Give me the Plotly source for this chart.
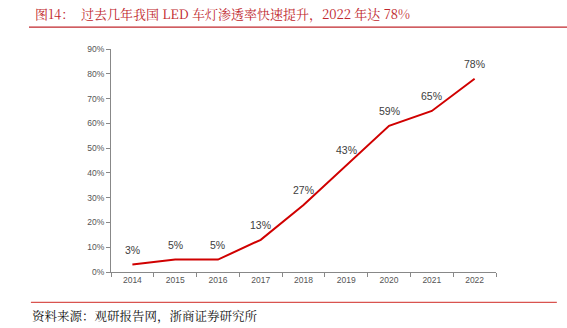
import plotly.graph_objects as go

years = ["2014", "2015", "2016", "2017", "2018", "2019", "2020", "2021", "2022"]
rate = [0.03, 0.05, 0.05, 0.13, 0.27, 0.43, 0.59, 0.65, 0.78]
labels = ["3%", "5%", "5%", "13%", "27%", "43%", "59%", "65%", "78%"]
yticks = [0, 0.1, 0.2, 0.3, 0.4, 0.5, 0.6, 0.7, 0.8, 0.9]
ytick_text = ["0%", "10%", "20%", "30%", "40%", "50%", "60%", "70%", "80%", "90%"]

title = "图14：  过去几年我国 LED 车灯渗透率快速提升，2022 年达 78%"
source = "资料来源：观研报告网，浙商证券研究所"
red = "#c0272d"

fig = go.Figure()
fig.add_trace(go.Scatter(x=years, y=rate, mode="lines",
                         line=dict(color="#d00000", width=2), hoverinfo="skip"))

for i, (y, t) in enumerate(zip(rate, labels)):
    fig.add_annotation(x=i, y=y, text=t, showarrow=False, yshift=15,
                       font=dict(family="Liberation Sans, Arial", size=10.5, color="#404040"))

fig.add_annotation(xref="paper", yref="paper", x=-0.203, y=1.157, xanchor="left", yanchor="middle",
                   text=title, showarrow=False,
                   font=dict(family="Noto Serif CJK SC, Noto Sans CJK SC", size=13, color=red))
fig.add_annotation(xref="paper", yref="paper", x=-0.21, y=-0.196, xanchor="left", yanchor="middle",
                   text=source, showarrow=False,
                   font=dict(family="Noto Serif CJK SC, Noto Sans CJK SC", size=12.5, color="#111111"))

# separator lines
fig.add_shape(type="line", xref="paper", yref="paper", x0=-0.213, x1=1.19, y0=1.0985, y1=1.0985,
              line=dict(color=red, width=1.2))
fig.add_shape(type="line", xref="paper", yref="paper", x0=-0.208, x1=1.158, y0=-0.136, y1=-0.136,
              line=dict(color="#d9534f", width=1.2))

fig.update_layout(
    width=567, height=328,
    margin=dict(l=111, r=71, t=49, b=56),
    paper_bgcolor="white", plot_bgcolor="white",
    showlegend=False,
    xaxis=dict(type="category", tickson="boundaries", ticks="outside", ticklen=4,
               tickcolor="#888888", showline=True, linecolor="#888888", linewidth=1,
               showgrid=False, tickfont=dict(family="Liberation Sans, Arial", size=8.5, color="#555555"),
               range=[-0.5, 8.5]),
    yaxis=dict(range=[0, 0.9], tickvals=yticks, ticktext=ytick_text, ticks="outside", ticklen=4,
               tickcolor="#888888", showline=True, linecolor="#888888", linewidth=1,
               showgrid=False, zeroline=False,
               tickfont=dict(family="Liberation Sans, Arial", size=8.5, color="#555555")),
)

fig.write_html("out.html")
